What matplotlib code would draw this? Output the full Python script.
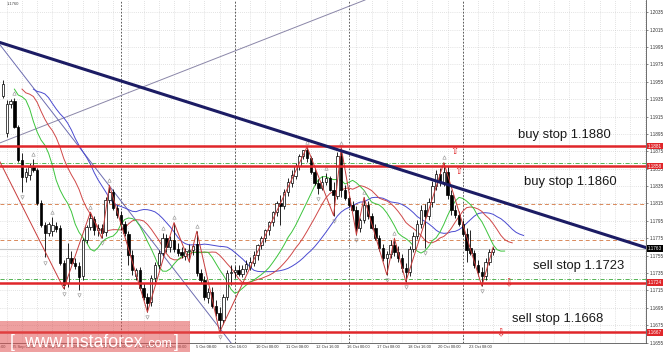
import matplotlib
matplotlib.use("Agg")
import matplotlib.pyplot as plt
import matplotlib.transforms as mtransforms
from matplotlib.patches import Rectangle
import numpy as np
import pandas as pd

plt.rcParams['font.family'] = ['Liberation Sans', 'DejaVu Sans']

# EUR/USD H4 candles, bar 0 = 22 Sep 20:00
opens = [1.1939, 1.1896, 1.1929, 1.1933, 1.1903, 1.1865, 1.1845, 1.1848, 1.1857, 1.1853,
         1.1816, 1.1790, 1.1781, 1.1783, 1.1789, 1.1787, 1.1747, 1.1724, 1.1752, 1.1747,
         1.1743, 1.1732, 1.1773, 1.1788, 1.1797, 1.1785, 1.1787, 1.1782, 1.1819, 1.1828,
         1.1810, 1.1802, 1.1791, 1.1780, 1.1756, 1.1732, 1.1738, 1.1718, 1.1707, 1.1702,
         1.1729, 1.1744, 1.1758, 1.1775, 1.1765, 1.1773, 1.1763, 1.1759, 1.1755, 1.1760,
         1.1762, 1.1768, 1.1735, 1.1727, 1.1706, 1.1713, 1.1697, 1.1689, 1.1681, 1.1707,
         1.1735, 1.1736, 1.1739, 1.1734, 1.1740, 1.1742, 1.1747, 1.1756, 1.1767, 1.1775,
         1.1784, 1.1794, 1.1805, 1.1816, 1.1812, 1.1828, 1.1838, 1.1847, 1.1858, 1.1870,
         1.1876, 1.1867, 1.1851, 1.1839, 1.1833, 1.1840, 1.1844, 1.1831, 1.1824, 1.1870,
         1.1830, 1.1821, 1.1813, 1.1808, 1.1787, 1.1796, 1.1813, 1.1800, 1.1787, 1.1775,
         1.1764, 1.1752, 1.1757, 1.1767, 1.1759, 1.1752, 1.1741, 1.1736, 1.1763, 1.1778,
         1.1791, 1.1807, 1.1800, 1.1817, 1.1835, 1.1849, 1.1840, 1.1851, 1.1825, 1.1807,
         1.1802, 1.1791, 1.1780, 1.1764, 1.1758, 1.1744, 1.1736, 1.1731, 1.1748, 1.1759]
highs = [1.1957, 1.1934, 1.1935, 1.1936, 1.1905, 1.1873, 1.1856, 1.1862, 1.1866, 1.1856,
         1.1819, 1.1794, 1.1794, 1.1799, 1.1794, 1.1790, 1.1750, 1.1770, 1.1760, 1.1752,
         1.1748, 1.1775, 1.1790, 1.1805, 1.1800, 1.1791, 1.1791, 1.1822, 1.1836, 1.1832,
         1.1813, 1.1806, 1.1795, 1.1783, 1.1762, 1.1741, 1.1742, 1.1724, 1.1712, 1.1733,
         1.1748, 1.1761, 1.1781, 1.1780, 1.1778, 1.1793, 1.1770, 1.1765, 1.1764, 1.1768,
         1.1768, 1.1783, 1.1740, 1.1731, 1.1718, 1.1719, 1.1704, 1.1696, 1.1711, 1.1738,
         1.1744, 1.1743, 1.1744, 1.1744, 1.1750, 1.1753, 1.1760, 1.1768, 1.1778, 1.1786,
         1.1795, 1.1806, 1.1818, 1.1825, 1.1832, 1.1844, 1.1854, 1.1862, 1.1872, 1.1877,
         1.1880, 1.1870, 1.1856, 1.1843, 1.1846, 1.1850, 1.1847, 1.1840, 1.1874, 1.1879,
         1.1836, 1.1825, 1.1818, 1.1812, 1.1798, 1.1822, 1.1818, 1.1804, 1.1791, 1.1779,
         1.1768, 1.1760, 1.1773, 1.1775, 1.1766, 1.1757, 1.1747, 1.1766, 1.1782, 1.1796,
         1.1813, 1.1814, 1.1821, 1.1841, 1.1854, 1.1856, 1.1862, 1.1858, 1.1830, 1.1813,
         1.1806, 1.1796, 1.1787, 1.1784, 1.1762, 1.1750, 1.1742, 1.1752, 1.1763, 1.1765]
lows = [1.1936, 1.1891, 1.1925, 1.1902, 1.1863, 1.1828, 1.1840, 1.1842, 1.1851, 1.1813,
        1.1788, 1.1753, 1.1778, 1.1778, 1.1782, 1.1744, 1.1717, 1.1719, 1.1745, 1.1740,
        1.1716, 1.1727, 1.1770, 1.1785, 1.1779, 1.1778, 1.1775, 1.1778, 1.1815, 1.1807,
        1.1798, 1.1784, 1.1778, 1.1744, 1.1733, 1.1727, 1.1716, 1.1704, 1.1690, 1.1697,
        1.1725, 1.1740, 1.1755, 1.1759, 1.1759, 1.1759, 1.1754, 1.1752, 1.1750, 1.1748,
        1.1756, 1.1731, 1.1724, 1.1704, 1.1701, 1.1695, 1.1686, 1.1667, 1.1676, 1.1704,
        1.1721, 1.1729, 1.1731, 1.1730, 1.1736, 1.1738, 1.1743, 1.1750, 1.1763, 1.1771,
        1.1779, 1.1789, 1.1800, 1.1790, 1.1809, 1.1824, 1.1834, 1.1843, 1.1854, 1.1866,
        1.1863, 1.1849, 1.1836, 1.1826, 1.1830, 1.1836, 1.1829, 1.1801, 1.1820, 1.1822,
        1.1819, 1.1811, 1.1806, 1.1779, 1.1782, 1.1793, 1.1797, 1.1786, 1.1773, 1.1760,
        1.1749, 1.1733, 1.1752, 1.1754, 1.1748, 1.1736, 1.1725, 1.1732, 1.1759, 1.1774,
        1.1787, 1.1764, 1.1796, 1.1811, 1.1830, 1.1835, 1.1835, 1.1820, 1.1802, 1.1798,
        1.1789, 1.1777, 1.1748, 1.1756, 1.1741, 1.1731, 1.1720, 1.1727, 1.1744, 1.1756]
closes = [1.1952, 1.1929, 1.1933, 1.1903, 1.1865, 1.1845, 1.1851, 1.1857, 1.1853, 1.1816,
          1.1790, 1.1781, 1.1791, 1.1790, 1.1786, 1.1747, 1.1721, 1.1752, 1.1747, 1.1743,
          1.1730, 1.1773, 1.1788, 1.1798, 1.1784, 1.1787, 1.1781, 1.1819, 1.1828, 1.1810,
          1.1802, 1.1791, 1.1781, 1.1756, 1.1738, 1.1738, 1.1718, 1.1707, 1.1700, 1.1729,
          1.1744, 1.1758, 1.1775, 1.1765, 1.1773, 1.1763, 1.1758, 1.1756, 1.1760, 1.1762,
          1.1766, 1.1735, 1.1727, 1.1707, 1.1713, 1.1697, 1.1689, 1.1681, 1.1707, 1.1735,
          1.1736, 1.1739, 1.1734, 1.1740, 1.1745, 1.1748, 1.1756, 1.1767, 1.1775, 1.1784,
          1.1794, 1.1805, 1.1816, 1.1812, 1.1828, 1.1840, 1.1848, 1.1858, 1.1870, 1.1876,
          1.1867, 1.1851, 1.1839, 1.1833, 1.1840, 1.1844, 1.1831, 1.1825, 1.1870, 1.1830,
          1.1821, 1.1813, 1.1808, 1.1787, 1.1796, 1.1813, 1.1800, 1.1787, 1.1775, 1.1764,
          1.1752, 1.1757, 1.1767, 1.1759, 1.1752, 1.1741, 1.1736, 1.1763, 1.1778, 1.1791,
          1.1807, 1.1800, 1.1817, 1.1835, 1.1849, 1.1840, 1.1851, 1.1825, 1.1807, 1.1802,
          1.1791, 1.1780, 1.1762, 1.1758, 1.1744, 1.1736, 1.1731, 1.1748, 1.1759, 1.1763]

# time axis labels (bar index of each label)
label_bars = [-5, 3, 11, 19, 27, 35, 43, 51, 59, 67, 75, 83, 91, 99, 107, 115, 123]
time_labels = ['22 Sep 00:00', '25 Sep 08:00', '26 Sep 16:00', '28 Sep 00:00', '29 Sep 08:00',
               '2 Oct 16:00', '4 Oct 00:00', '5 Oct 08:00', '6 Oct 16:00', '10 Oct 00:00',
               '11 Oct 08:00', '12 Oct 16:00', '16 Oct 00:00', '17 Oct 08:00', '18 Oct 16:00',
               '20 Oct 00:00', '23 Oct 08:00']
week_starts = [31, 61, 91, 121]

# zigzag pivots
zz_bars = [-12, 16, 23, 26, 28, 38, 45, 49, 51, 57, 80, 87, 89, 93, 95, 101, 103, 106, 116, 126, 129]
zz_prices = [1.1960, 1.1717, 1.1805, 1.1775, 1.1836, 1.1690, 1.1793, 1.1748, 1.1783, 1.1667,
             1.1880, 1.1801, 1.1879, 1.1779, 1.1822, 1.1733, 1.1775, 1.1725, 1.1862, 1.1720, 1.1765]

# drawn trend lines, two anchor points each (bar, price)
main_trend = [(0, 1.1999), (80, 1.1888)]
thin_down = [(0, 1.1993), (50, 1.1711)]
thin_up = [(0, 1.1886), (90, 1.2040)]

buy_stops = [1.1881, 1.1858]
sell_stops = [1.1724, 1.1667]
order_lines = [1.1861, 1.1728]
pivot_levels = [1.1814, 1.1773]
price_ticks = np.round(np.arange(1.1655, 1.20351, 0.002), 4)

o = np.array(opens); h = np.array(highs); l = np.array(lows); c = np.array(closes)
x = np.arange(len(c))

fig = plt.figure(figsize=(6.65, 3.6), dpi=100)
ax = fig.add_axes([0, 1 - 343 / 360, 646 / 665, 343 / 360])
ax.set_xlim(-0.79, 169.2)
ax.set_ylim(1.16545, 1.2049)

# grid + week separators
for b in np.arange(1, 170, 4):
    ax.axvline(b, color='#c8c8c8', lw=0.5, ls=(0, (1, 2)), zorder=0)
for p in price_ticks:
    ax.axhline(p, color='#c8c8c8', lw=0.5, ls=(0, (1, 2)), zorder=0)
for b in week_starts:
    ax.axvline(b, color='#404040', lw=0.6, ls=(0, (2, 2)), zorder=1)

# levels
for p in pivot_levels:
    ax.axhline(p, color='#d9895a', lw=0.7, ls=(0, (4, 3)), zorder=1)
ax.axhline(c[-1], color='#c8c8c8', lw=0.8, zorder=1)
for p in order_lines:
    ax.axhline(p, color='#3aa83a', lw=0.6, ls=(0, (5, 2, 1, 2)), zorder=1)
for p in buy_stops + sell_stops:
    ax.axhline(p, color='#e0262a', lw=1.8, zorder=6)

# trend lines
ax.axline(*thin_up, color='#8a86a8', lw=0.7, zorder=2)
ax.axline(*thin_down, color='#6c6cb0', lw=0.7, zorder=2)
ax.axline(*main_trend, color='#1c1c64', lw=2.2, zorder=7)

# alligator (SMMA of median price, shifted forward)
median = pd.Series((h + l) / 2)
for n, shift, col in [(13, 8, '#4a4ad0'), (8, 5, '#d04848'), (5, 3, '#3cc43c')]:
    smma = median.ewm(alpha=1 / n, adjust=False).mean()
    ax.plot(x + shift, smma, color=col, lw=0.7, zorder=2)

# zigzag
ax.plot(zz_bars, zz_prices, color='#c83c3c', lw=0.7, zorder=5)

# candles
up = c >= o
ax.vlines(x, l, h, color='black', lw=0.6, zorder=3)
ax.bar(x[up], (c - o)[up], bottom=o[up], width=0.62, color='white', edgecolor='black', lw=0.5, zorder=4)
ax.bar(x[~up], (o - c)[~up], bottom=c[~up], width=0.62, color='black', edgecolor='black', lw=0.5, zorder=4)

# fractals
fr_up = [i for i in range(2, len(h) - 2) if h[i] > max(h[i - 2], h[i - 1], h[i + 1], h[i + 2])]
fr_dn = [i for i in range(2, len(l) - 2) if l[i] < min(l[i - 2], l[i - 1], l[i + 1], l[i + 2])]
ax.plot(fr_up, h[fr_up] + 0.0006, ls='none', marker='^', ms=2.5, mfc='none', mec='#909090', mew=0.4, zorder=5)
ax.plot(fr_dn, l[fr_dn] - 0.0006, ls='none', marker='v', ms=2.5, mfc='none', mec='#909090', mew=0.4, zorder=5)

# axes styling
ax.set_xticks([])
ax.yaxis.tick_right()
ax.set_yticks(price_ticks)
ax.set_yticklabels([f'{p:.4f}' for p in price_ticks])
ax.tick_params(axis='y', labelsize=3.3, length=1.5, width=0.4, pad=1, colors='#333333')
for side in ['top', 'left']:
    ax.spines[side].set_visible(False)
for side in ['right', 'bottom']:
    ax.spines[side].set_color('#555555')
    ax.spines[side].set_linewidth(0.6)

xtrans = mtransforms.blended_transform_factory(ax.transData, ax.transAxes)
for b, lab in zip(label_bars, time_labels):
    ax.text(b + 2.5, -0.005, lab, transform=xtrans, ha='center', va='top', fontsize=2.9,
            color='#333333', clip_on=False)

ytrans = mtransforms.blended_transform_factory(ax.transAxes, ax.transData)
for p in buy_stops + sell_stops:
    ax.text(1.003, p, f'{p:.4f}', transform=ytrans, ha='left', va='center', fontsize=3.3,
            color='white', clip_on=False, zorder=10,
            bbox=dict(boxstyle='square,pad=0.2', fc='#e0262a', ec='none'))
ax.text(1.003, c[-1], f'{c[-1]:.4f}', transform=ytrans, ha='left', va='center', fontsize=3.3,
        color='white', clip_on=False, zorder=10,
        bbox=dict(boxstyle='square,pad=0.2', fc='black', ec='none'))
ax.text(7 / 646, 1 - 4 / 343, '1.1760', transform=ax.transAxes, fontsize=3, color='#444444', va='center')

# order annotations
for txt, px, py in [('buy stop 1.1880', 518, 135), ('buy stop 1.1860', 524, 182),
                    ('sell stop 1.1723', 533, 266), ('sell stop 1.1668', 512, 319)]:
    ax.text(px / 646, 1 - py / 343, txt, transform=ax.transAxes, fontsize=9.4, color='#1a1a1a',
            va='center', ha='left', zorder=9)
for px, py, glyph, va in [(454, 146, '\u21e7', 'top'), (458, 166.5, '\u21e7', 'top'),
                          (508, 283, '\u21e9', 'center'), (500, 333, '\u21e9', 'center')]:
    ax.text(px / 646, 1 - py / 343, glyph, transform=ax.transAxes, fontsize=7, color='#e0262a',
            ha='center', va=va, family='DejaVu Sans', zorder=9)

# watermark
fig.add_artist(Rectangle((0, 8 / 360), 190 / 665, 31 / 360, transform=fig.transFigure,
                         fc=(0.88, 0.32, 0.32), alpha=0.55, ec='none', zorder=20))
for txt, px, fs in [('[', 10, 12.7), ('www.instaforex', 24, 12.7), ('.com', 146, 9), (']', 174, 12.7)]:
    fig.text(px / 665, 1 - 347 / 360, txt, fontsize=fs, color='white', va='baseline', zorder=21)

fig.savefig('out.png', dpi=100)
